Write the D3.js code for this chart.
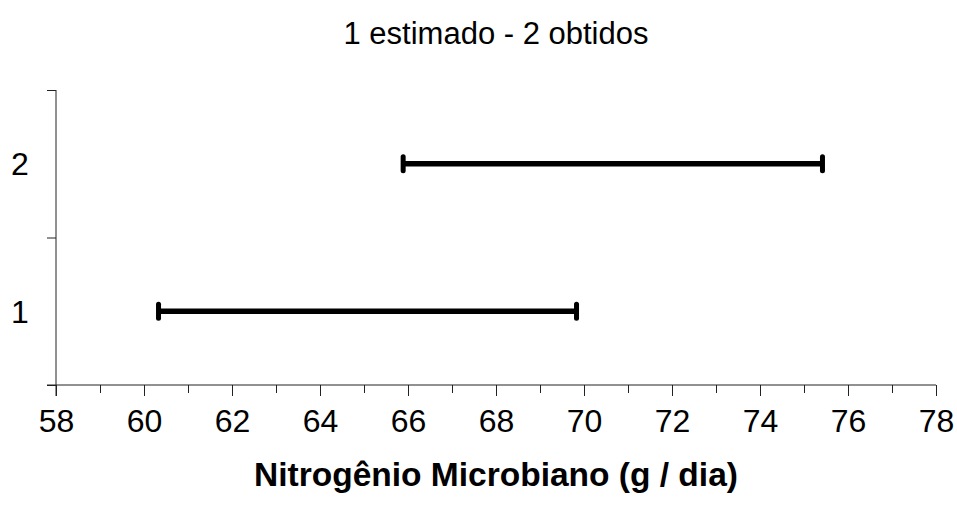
<!DOCTYPE html>
<html>
<head>
<meta charset="utf-8">
<script src="https://cdn.jsdelivr.net/npm/d3@7"></script>
<style>
  body { margin: 0; background: #fff; }
  svg { font-family: "Liberation Sans", Arial, sans-serif; }
</style>
</head>
<body>
<div id="chart"></div>
<script>
// data
const categories = [1, 2]
const lowerValues = [60.33, 65.89]
const upperValues = [69.83, 75.42]
const xTicks = [58, 60, 62, 64, 66, 68, 70, 72, 74, 76, 78]
const xMinorTicks = [59, 61, 63, 65, 67, 69, 71, 73, 75, 77]
const yTicks = [0.5, 1.5, 2.5]
const chartTitle = "1 estimado - 2 obtidos"
const xTitle = "Nitrogênio Microbiano (g / dia)"

const W = 957, H = 508
const PLOT = { LEFT: 56, RIGHT: 936, TOP: 90, BOTTOM: 385 }

const svg = d3.select("#chart")
	.append("svg")
		.attr("width", W)
		.attr("height", H)

const x = d3.scaleLinear()
	.domain([58, 78])
	.range([PLOT.LEFT, PLOT.RIGHT])

const y = d3.scaleLinear()
	.domain([0.5, 2.5])
	.range([PLOT.BOTTOM, PLOT.TOP])

// x axis - major ticks with labels
const xAxisGroup = svg.append("g")
	.attr("transform", `translate(0, ${PLOT.BOTTOM})`)
	.call(d3.axisBottom(x).tickValues(xTicks).tickSizeInner(11).tickSizeOuter(0).tickPadding(13))
xAxisGroup.select(".domain").remove()
xAxisGroup.selectAll("line").attr("stroke", "#222")
xAxisGroup.selectAll("text")
	.attr("font-size", 32)
	.attr("font-family", "Liberation Sans, Arial, sans-serif")
	.attr("fill", "#000")

// minor ticks
svg.append("g")
	.attr("transform", `translate(0, ${PLOT.BOTTOM})`)
	.call(d3.axisBottom(x).tickValues(xMinorTicks).tickSizeInner(8).tickSizeOuter(0).tickFormat(""))
	.call(g => g.select(".domain").remove())
	.selectAll("line").attr("stroke", "#222")

// y axis - ticks between categories
const yAxisGroup = svg.append("g")
	.attr("transform", `translate(${PLOT.LEFT}, 0)`)
	.call(d3.axisLeft(y).tickValues(yTicks).tickSizeInner(9).tickSizeOuter(0).tickFormat(""))
yAxisGroup.select(".domain").remove()
yAxisGroup.selectAll("line").attr("stroke", "#222")

// axis lines
svg.append("line")
	.attr("x1", PLOT.LEFT - 9).attr("x2", PLOT.RIGHT)
	.attr("y1", PLOT.BOTTOM).attr("y2", PLOT.BOTTOM)
	.attr("stroke", "#222")
svg.append("line")
	.attr("x1", PLOT.LEFT).attr("x2", PLOT.LEFT)
	.attr("y1", PLOT.TOP).attr("y2", PLOT.BOTTOM + 11)
	.attr("stroke", "#222")

// category labels
svg.selectAll("text.catLabel")
	.data(categories)
	.enter().append("text")
		.attr("class", "catLabel")
		.attr("x", 20)
		.attr("y", d => y(d))
		.attr("dy", "0.36em")
		.attr("text-anchor", "middle")
		.attr("font-size", 32)
		.text(d => d)

// interval bars
const rows = categories.map((c, i) => ({ cat: c, lo: lowerValues[i], hi: upperValues[i] }))

svg.selectAll("line.range")
	.data(rows)
	.enter().append("line")
		.attr("class", "range")
		.attr("x1", d => x(d.lo))
		.attr("x2", d => x(d.hi))
		.attr("y1", d => y(d.cat))
		.attr("y2", d => y(d.cat))
		.attr("stroke", "#000")
		.attr("stroke-width", 5.5)

const caps = rows.flatMap(d => [{ cat: d.cat, v: d.lo }, { cat: d.cat, v: d.hi }])
svg.selectAll("line.cap")
	.data(caps)
	.enter().append("line")
		.attr("class", "cap")
		.attr("x1", d => x(d.v))
		.attr("x2", d => x(d.v))
		.attr("y1", d => y(d.cat) - 7)
		.attr("y2", d => y(d.cat) + 7)
		.attr("stroke", "#000")
		.attr("stroke-width", 5)
		.attr("stroke-linecap", "round")

// titles
svg.append("text")
	.attr("x", (PLOT.LEFT + PLOT.RIGHT) / 2)
	.attr("y", 44)
	.attr("text-anchor", "middle")
	.attr("font-size", 31)
	.text(chartTitle)

svg.append("text")
	.attr("x", (PLOT.LEFT + PLOT.RIGHT) / 2)
	.attr("y", 486)
	.attr("text-anchor", "middle")
	.attr("font-size", 33.5)
	.attr("font-weight", "bold")
	.text(xTitle)
</script>
</body>
</html>
